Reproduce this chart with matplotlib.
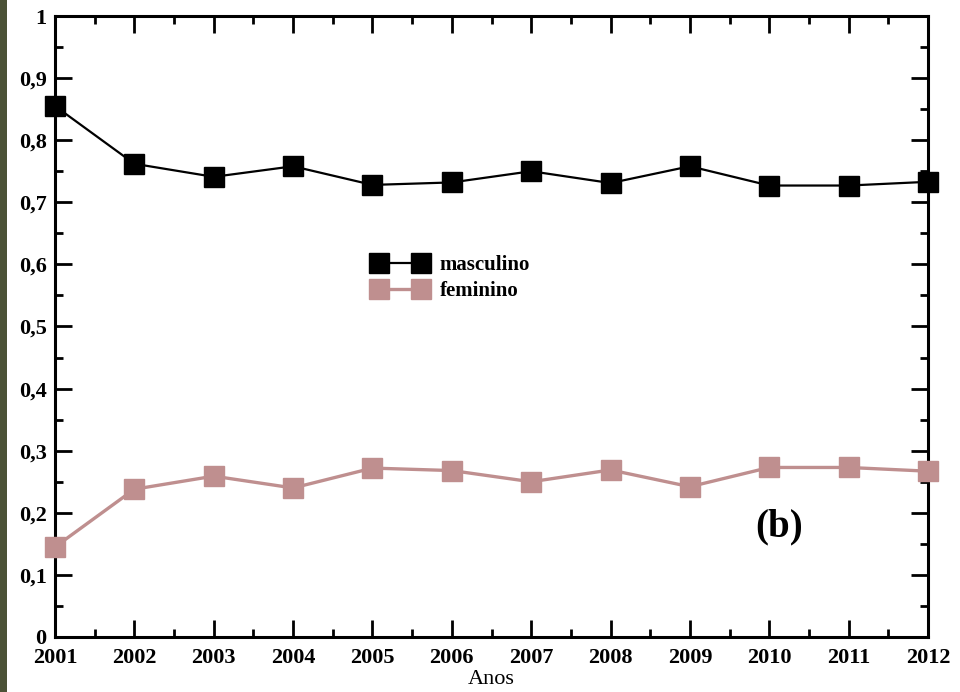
import matplotlib
matplotlib.use('Agg')
from matplotlib import pyplot as plt
from matplotlib.patches import Rectangle
from matplotlib.ticker import MultipleLocator, FuncFormatter

anos = [2001, 2002, 2003, 2004, 2005, 2006, 2007, 2008, 2009, 2010, 2011, 2012]
masculino = [0.855, 0.762, 0.741, 0.758, 0.728, 0.732, 0.750, 0.731, 0.758, 0.727, 0.727, 0.733]
feminino = [0.145, 0.238, 0.259, 0.240, 0.272, 0.268, 0.250, 0.269, 0.242, 0.273, 0.273, 0.267]

plt.rcParams['font.family'] = ['Liberation Serif', 'DejaVu Serif']

fig = plt.figure(figsize=(9.6, 6.92), dpi=100, facecolor='white')
# green strip on the left edge of the scan
fig.patches.append(Rectangle((0, 0), 7 / 960, 1, transform=fig.transFigure,
                             facecolor='#4b5237', edgecolor='none', zorder=-1))

ax = fig.add_axes([55 / 960, 1 - 637 / 692, 873 / 960, 621 / 692])

ax.plot(anos, masculino, color='black', lw=1.6, marker='s', ms=15,
        mec='black', mfc='black', label='masculino', clip_on=False, zorder=3)
ax.plot(anos, feminino, color='#bf8f8f', lw=2.4, marker='s', ms=15,
        mec='#bf8f8f', mfc='#bf8f8f', label='feminino', clip_on=False, zorder=3)

ax.set_xlim(2001, 2012)
ax.set_ylim(0, 1)
ax.xaxis.set_major_locator(MultipleLocator(1))
ax.xaxis.set_minor_locator(MultipleLocator(0.5))
ax.yaxis.set_major_locator(MultipleLocator(0.1))
ax.yaxis.set_minor_locator(MultipleLocator(0.05))


def virgula(v, pos):
    if abs(v) < 1e-9:
        return '0'
    if abs(v - 1) < 1e-9:
        return '1'
    return ('%.1f' % v).replace('.', ',')


ax.yaxis.set_major_formatter(FuncFormatter(virgula))
ax.xaxis.set_major_formatter(FuncFormatter(lambda v, p: '%d' % v))

ax.tick_params(which='both', direction='in', top=True, right=True, width=2, color='black')
ax.tick_params(which='major', length=12, labelsize=16)
ax.tick_params(axis='x', which='major', pad=8)
ax.tick_params(axis='y', which='major', pad=6)
ax.tick_params(which='minor', length=6)
for lab in ax.get_xticklabels() + ax.get_yticklabels():
    lab.set_fontweight('bold')

for s in ax.spines.values():
    s.set_linewidth(2.2)

ax.set_xlabel('Anos', fontsize=16, labelpad=1)

ax.text(2010.12, 0.177, '(b)', fontsize=28, fontweight='bold', ha='center', va='center')

leg = ax.legend(loc='upper left', bbox_to_anchor=(0.343, 0.645), frameon=False,
                numpoints=2, handlelength=2.6, handletextpad=0.6, labelspacing=0.3,
                prop={'weight': 'bold', 'size': 15})
for h in leg.legend_handles:
    h.set_markersize(14)

fig.savefig('out.png', dpi=100, facecolor=fig.get_facecolor())
